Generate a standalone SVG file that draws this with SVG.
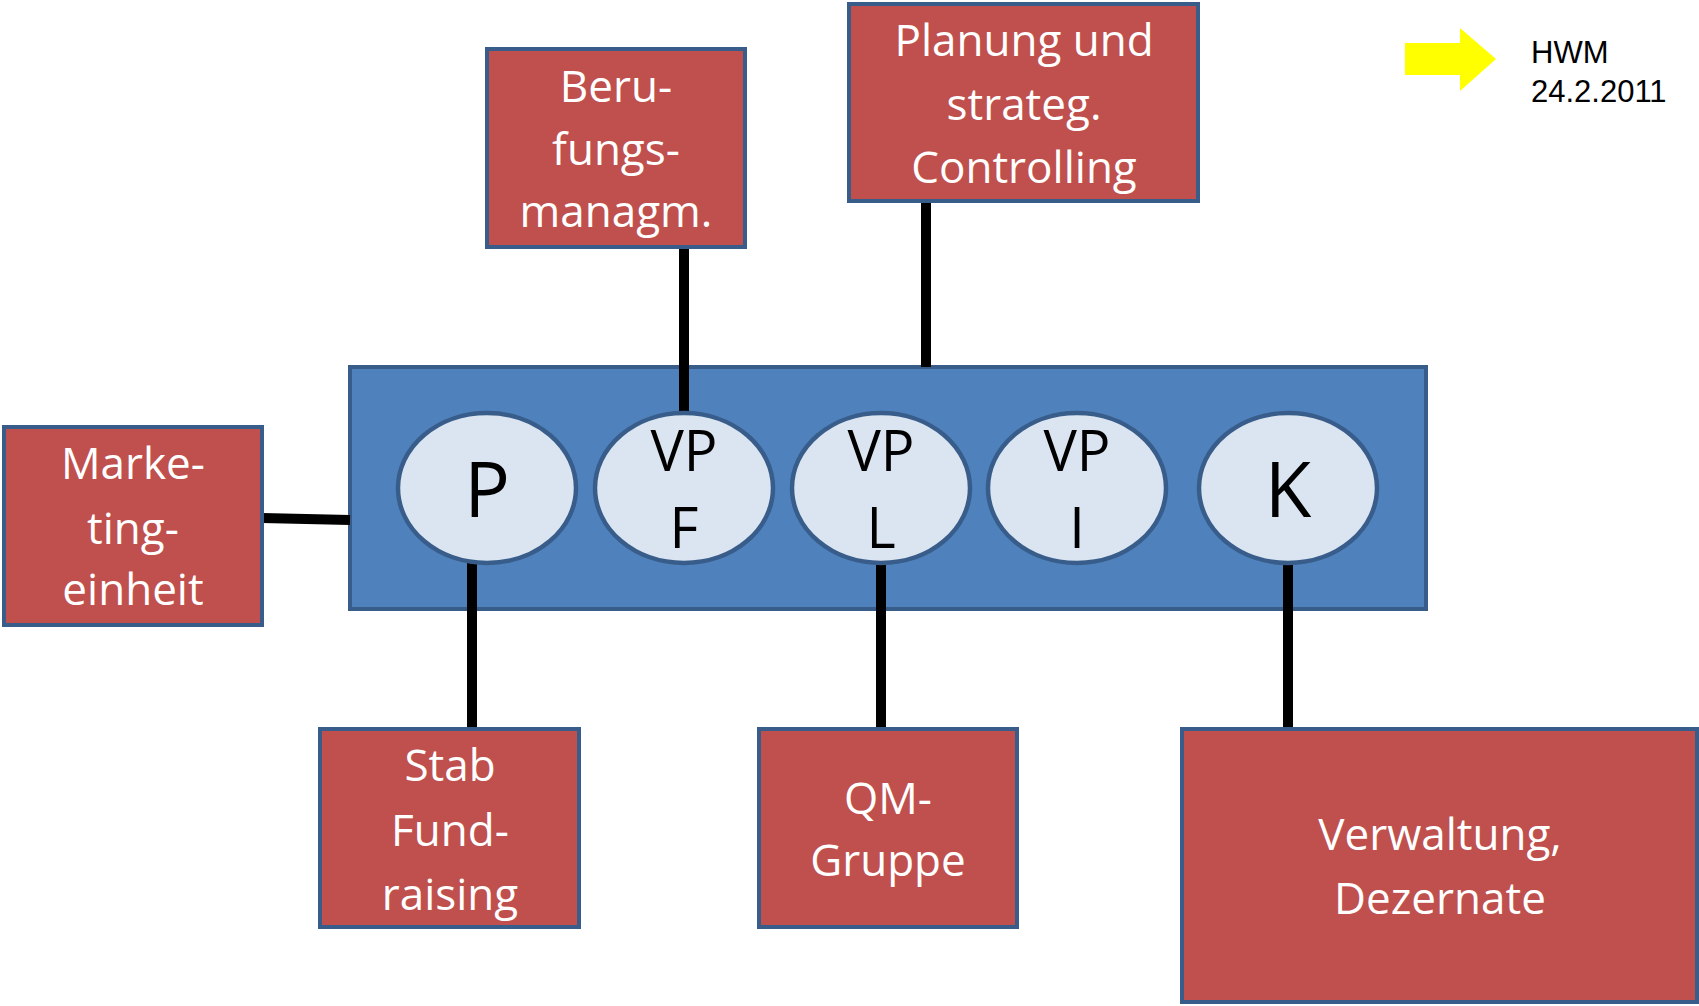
<svg xmlns="http://www.w3.org/2000/svg" width="1699" height="1006" viewBox="0 0 1699 1006">
<style>
.box{fill:#C0504D;stroke:#385D8A;stroke-width:4}
.bt{font-family:"Open Sans",sans-serif;font-size:44px;fill:#fff;text-anchor:middle}
.ell{fill:#DBE5F1;stroke:#385D8A;stroke-width:4.5}
.et{font-family:"Open Sans",sans-serif;fill:#000;text-anchor:middle}
.con{stroke:#000;stroke-width:10;fill:none}
</style>
<rect width="1699" height="1006" fill="#fff"/>
<g id="board">
<rect x="350" y="367" width="1076" height="242" fill="#4F81BD" stroke="#385D8A" stroke-width="4"/>
</g>
<g id="connectors">
<line class="con" x1="684" y1="247" x2="684" y2="415"/>
<line class="con" x1="926" y1="201" x2="926" y2="367"/>
<line class="con" x1="262" y1="518" x2="350" y2="520"/>
<line class="con" x1="472" y1="562" x2="472" y2="729"/>
<line class="con" x1="881" y1="562" x2="881" y2="729"/>
<line class="con" x1="1288" y1="562" x2="1288" y2="729"/>
</g>
<g id="nodeP"><ellipse class="ell" cx="487" cy="488" rx="89" ry="75"/><text class="et" x="487" y="517" font-size="76">P</text></g>
<g id="nodeVPF"><ellipse class="ell" cx="684" cy="488" rx="89" ry="75"/><text class="et" x="684" y="471" font-size="56">VP</text><text class="et" x="684" y="548" font-size="56">F</text></g>
<g id="nodeVPL"><ellipse class="ell" cx="881" cy="488" rx="89" ry="75"/><text class="et" x="881" y="471" font-size="56">VP</text><text class="et" x="881" y="548" font-size="56">L</text></g>
<g id="nodeVPI"><ellipse class="ell" cx="1077" cy="488" rx="89" ry="75"/><text class="et" x="1077" y="471" font-size="56">VP</text><text class="et" x="1077" y="548" font-size="56">I</text></g>
<g id="nodeK"><ellipse class="ell" cx="1288" cy="488" rx="89" ry="75"/><text class="et" x="1288" y="517" font-size="76">K</text></g>
<g id="berufung"><rect class="box" x="487" y="49" width="258" height="198"/><text class="bt"><tspan x="616" y="102">Beru-</tspan><tspan x="616" y="165">fungs-</tspan><tspan x="616" y="227">managm.</tspan></text></g>
<g id="planung"><rect class="box" x="849" y="4" width="349" height="197"/><text class="bt"><tspan x="1024" y="56">Planung und</tspan><tspan x="1024" y="120">strateg.</tspan><tspan x="1024" y="183">Controlling</tspan></text></g>
<g id="marketing"><rect class="box" x="4" y="427" width="258" height="198"/><text class="bt"><tspan x="133" y="479">Marke-</tspan><tspan x="133" y="544">ting-</tspan><tspan x="133" y="605">einheit</tspan></text></g>
<g id="stab"><rect class="box" x="320" y="729" width="259" height="198"/><text class="bt"><tspan x="450" y="781">Stab</tspan><tspan x="450" y="846">Fund-</tspan><tspan x="450" y="910">raising</tspan></text></g>
<g id="qm"><rect class="box" x="759" y="729" width="258" height="198"/><text class="bt"><tspan x="888" y="814">QM-</tspan><tspan x="888" y="876">Gruppe</tspan></text></g>
<g id="verwaltung"><rect class="box" x="1182" y="729" width="515" height="273"/><text class="bt"><tspan x="1440" y="850">Verwaltung,</tspan><tspan x="1440" y="914">Dezernate</tspan></text></g>
<g id="hwm">
<polygon points="1405,43 1460,43 1460,28 1496,59 1460,91 1460,75 1405,75" fill="#FFFF00"/>
<text font-family="Liberation Sans,Arial,sans-serif" font-size="31" fill="#000"><tspan x="1531" y="63">HWM</tspan><tspan x="1531" y="102">24.2.2011</tspan></text>
</g>
</svg>
